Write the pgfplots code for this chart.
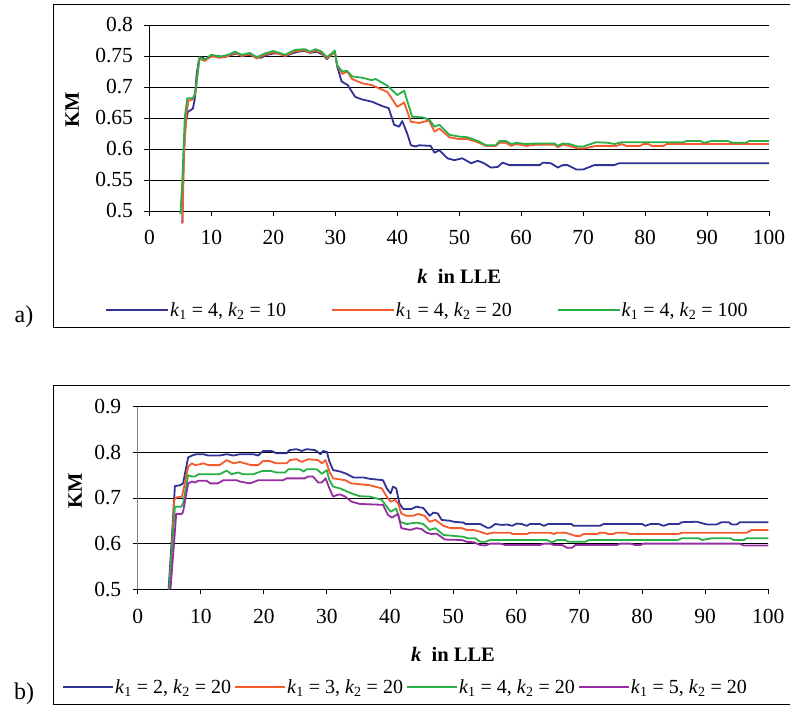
\documentclass[border=0pt]{standalone}
\usepackage{fontspec}
\setmainfont{Liberation Serif}
\usepackage{pgfplots}
\pgfplotsset{compat=1.18}

\definecolor{cBlue}{RGB}{48,50,150}
\definecolor{cRed}{RGB}{245,90,45}
\definecolor{cGreen}{RGB}{40,175,70}
\definecolor{cPurple}{RGB}{150,45,160}

\newcommand{\lbl}[2]{\textit{k}\textsubscript{1} = #1, \textit{k}\textsubscript{2} = #2}

\pgfplotsset{kmstyle/.style={
  scale only axis,
  xmin=0, xmax=100, xtick={0,10,...,100},
  axis lines*=left,
  tick align=outside,
  major tick length=5pt,
  ymajorgrids,
  grid style={black, line width=0.8pt},
  axis line style={black, line width=0.8pt},
  every tick/.style={black, line width=0.8pt},
  tick label style={font=\fontsize{21.5}{25}\selectfont},
  xticklabel style={yshift=-11pt},
  yticklabel style={xshift=-8pt},
  /pgf/number format/assume math mode=true,
  label style={font=\fontsize{20.5}{24}\selectfont\bfseries},
  xlabel={\textbf{\textit{k}}\ \ in LLE},
  ylabel={KM},
  clip=false,
  legend style={draw=none, fill=none, inner sep=0pt,
    font=\fontsize{20}{24}\selectfont, legend columns=-1,
    nodes={inner sep=1pt}},
  every axis plot/.append style={line width=1.8pt, line join=round},
}}

\begin{document}
\begin{tikzpicture}
\useasboundingbox (0pt,0pt) rectangle (790pt,709pt);

% ---------- a) ----------
\begin{axis}[kmstyle,
  at={(149.5pt,498pt)}, anchor=south west,
  width=619.5pt, height=186pt,
  ymin=0.5, ymax=0.8, ytick={0.5,0.55,...,0.8},
  yticklabels={0.5,0.55,0.6,0.65,0.7,0.75,0.8},
  xlabel style={at={(axis description cs:0.5,-0.35)}, anchor=center},
  ylabel style={at={(axis description cs:-0.125,0.543)}, anchor=center, rotate=0},
  legend style={at={(axis description cs:-0.0718,-0.532)}, anchor=west},
  legend image code/.code={\draw[#1, line width=2pt] (0pt,0pt) -- (56pt,0pt); \path (0pt,0pt) -- (62pt,0pt);},
  /tikz/every even column/.append style={column sep=44pt},
]
\addplot[cBlue] coordinates {
(5.3,0.48) (5.5,0.58) (5.8,0.64) (6.2,0.66) (7.0,0.665) (7.3,0.68) (7.6,0.72) (8.0,0.745) (8.5,0.748) (9,0.744)
(10,0.749) (11,0.75) (12,0.748) (13,0.751) (14,0.754) (15,0.75) (16,0.752) (17,0.749) (18,0.747) (19,0.752)
(20,0.754) (21,0.754) (22,0.75) (23,0.754) (24,0.757) (25,0.758) (26,0.755) (27,0.757) (28,0.752) (28.6,0.745)
(29.4,0.752) (29.9,0.757) (30.3,0.733) (31,0.709) (32,0.703) (33.2,0.684) (34.3,0.68) (36,0.676) (37.6,0.669)
(38.6,0.666) (39.5,0.639) (40.3,0.636) (40.8,0.645) (41.6,0.625) (42.2,0.606) (43,0.604) (43.5,0.606) (45.4,0.605)
(46,0.594) (46.8,0.598) (48.1,0.585) (49.2,0.582) (50.5,0.585) (51.9,0.577) (53,0.581) (54,0.577) (55.1,0.570)
(56.2,0.571) (57,0.578) (58.1,0.574) (63,0.574) (63.5,0.578) (64.8,0.577) (65.9,0.570) (66.7,0.574) (67.5,0.574)
(68.9,0.567) (70,0.567) (71.8,0.574) (75,0.574) (75.8,0.577) (100,0.577)
};
\addlegendentry{\lbl{4}{10}}
\addplot[cRed] coordinates {
(5.3,0.48) (5.6,0.6) (6.0,0.66) (6.3,0.678) (7.0,0.68) (7.4,0.69) (8.0,0.746) (8.9,0.742) (10,0.75) (11.4,0.747)
(12.7,0.75) (13.8,0.755) (14.9,0.75) (16.2,0.753) (17.3,0.746) (18.6,0.752) (20,0.756) (21.9,0.75) (23.5,0.758)
(25.1,0.759) (25.9,0.755) (26.8,0.759) (27.8,0.755) (28.6,0.746) (29.4,0.752) (29.9,0.757)
(30.3,0.735) (31.1,0.721) (31.9,0.725) (32.7,0.713) (34.3,0.706) (35.9,0.703) (37,0.698) (38.4,0.692) (40,0.668)
(41.1,0.675) (42.2,0.644) (43.5,0.642) (45.1,0.646) (46,0.628) (46.8,0.633) (48.4,0.619) (50,0.616) (51.3,0.616)
(52.7,0.612) (54.3,0.605) (55.9,0.605) (56.5,0.610) (57.5,0.610) (58.4,0.605) (59.2,0.608) (60.8,0.605) (62.4,0.607)
(65.4,0.607) (65.9,0.603) (66.7,0.607) (67.8,0.605) (69.1,0.601) (70.2,0.601) (72.1,0.605) (75.4,0.605) (76.2,0.608)
(77,0.605) (79.2,0.605) (79.7,0.608) (80.5,0.608) (81.1,0.605) (83,0.605) (83.5,0.608) (100,0.608)
};
\addlegendentry{\lbl{4}{20}}
\addplot[cGreen] coordinates {
(5.0,0.495) (5.3,0.55) (5.7,0.652) (6.1,0.682) (7.0,0.682) (7.4,0.69) (8.1,0.748) (8.9,0.744) (10,0.752) (11.4,0.749)
(12.7,0.752) (13.8,0.757) (14.9,0.752) (16.2,0.755) (17.3,0.748) (18.6,0.754) (20,0.758) (21.9,0.752) (23.5,0.760)
(25.1,0.761) (25.9,0.757) (26.8,0.761) (27.8,0.757) (28.6,0.748) (29.4,0.754) (29.9,0.759) (30.3,0.735) (31.1,0.725)
(31.9,0.726) (32.7,0.717) (34.3,0.715) (35.9,0.711) (36.5,0.713) (38.4,0.702) (40,0.687) (41.1,0.694) (42.4,0.652)
(44.1,0.651) (45.2,0.647) (46,0.636) (46.8,0.639) (48.4,0.623) (50,0.620) (51.3,0.619) (53,0.613) (54.3,0.606)
(55.9,0.606) (56.5,0.613) (57.5,0.613) (58.4,0.608) (59.2,0.610) (60.8,0.608) (62.4,0.609) (65.4,0.609) (65.9,0.605)
(66.7,0.609) (67.8,0.608) (69.1,0.604) (70,0.604) (72.1,0.611) (74,0.610) (75.1,0.608) (76.2,0.611) (86.2,0.611)
(86.7,0.613) (88.9,0.613) (89.5,0.610) (90.8,0.613) (93.3,0.613) (94.1,0.610) (96.3,0.610) (96.8,0.613) (100,0.613)
};
\addlegendentry{\lbl{4}{100}}
\end{axis}

% ---------- b) ----------
\begin{axis}[kmstyle,
  at={(137.7pt,119.7pt)}, anchor=south west,
  width=630.6pt, height=182.6pt,
  ymin=0.5, ymax=0.9, ytick={0.5,0.6,...,0.9},
  yticklabels={0.5,0.6,0.7,0.8,0.9},
  y axis line style={gray},
  xlabel style={at={(axis description cs:0.5,-0.355)}, anchor=center},
  ylabel style={at={(axis description cs:-0.099,0.538)}, anchor=center, rotate=0},
  legend style={at={(axis description cs:-0.12,-0.536)}, anchor=west},
  legend image code/.code={\draw[#1, line width=2pt] (0pt,0pt) -- (50pt,0pt);},
  /tikz/every even column/.append style={column sep=2pt},
]
\addplot[cBlue] coordinates {
(4.9,0.5) (5.4,0.608) (5.9,0.726) (6.7,0.728) (7.2,0.732) (8,0.789) (8.8,0.794) (9.4,0.796) (10.4,0.796) (11.2,0.793)
(13,0.793) (14.1,0.796) (15.2,0.793) (16.2,0.796) (18.3,0.796) (19.1,0.793) (19.9,0.803) (21.2,0.803) (22,0.798)
(23.6,0.798) (24.1,0.805) (25.2,0.807) (26,0.803) (26.8,0.807) (28.1,0.805) (29,0.796) (29.4,0.803) (30,0.801)
(30.4,0.78) (31,0.761) (32.1,0.758) (33.1,0.753) (34.2,0.745) (35.8,0.745) (36.8,0.742) (38.9,0.739) (39.5,0.721)
(40.1,0.710) (40.5,0.725) (41,0.721) (41.5,0.688) (42.1,0.676) (43.4,0.676) (44.2,0.681) (45.3,0.678) (46.3,0.661)
(46.9,0.668) (47.6,0.666) (48.2,0.652) (49.6,0.650) (50.1,0.648) (51.7,0.646) (52,0.643) (54.3,0.643) (55.4,0.635)
(55.9,0.635) (56.7,0.643) (57.8,0.641) (58.6,0.642) (59.4,0.639) (60.1,0.644) (60.9,0.643) (61.7,0.639) (62.2,0.643)
(63.8,0.643) (64.4,0.639) (65.1,0.643) (68.8,0.643) (69.1,0.639) (73.3,0.639) (73.9,0.643) (80,0.643) (80.5,0.639)
(81.3,0.643) (82.6,0.643) (83.4,0.639) (84.2,0.643) (85.8,0.643) (86.3,0.647) (88.7,0.648) (89.7,0.644) (90.3,0.642)
(91.8,0.642) (92.6,0.647) (93.7,0.647) (94.2,0.642) (95,0.642) (95.5,0.647) (100,0.647)
};
\addlegendentry{\lbl{2}{20}}
\addplot[cRed] coordinates {
(5.0,0.5) (5.4,0.586) (5.8,0.696) (6.1,0.701) (7,0.703) (7.2,0.714) (8,0.769) (8.6,0.776) (9.1,0.772) (9.9,0.774)
(10.4,0.776) (11.2,0.772) (13,0.772) (14.1,0.783) (15.2,0.776) (16.2,0.779) (18,0.772) (19.1,0.772) (19.9,0.781)
(20.9,0.781) (22,0.776) (23.6,0.776) (24.1,0.783) (25.2,0.785) (26,0.779) (27,0.785) (28.6,0.783) (29.2,0.776)
(29.8,0.783) (30.4,0.758) (31,0.743) (32.9,0.739) (33.9,0.732) (36.8,0.728) (38.7,0.721) (39.5,0.703) (40.1,0.692)
(40.8,0.696) (41.3,0.688) (41.8,0.666) (42.6,0.661) (43.7,0.661) (44.5,0.665) (45.5,0.661) (46.3,0.648) (47.2,0.652)
(48.5,0.639) (49.6,0.634) (51.4,0.634) (52.2,0.630) (53.3,0.630) (54.3,0.626) (55.4,0.621) (56.2,0.624) (59.1,0.624)
(59.4,0.621) (61.7,0.621) (62.2,0.624) (65.4,0.624) (66,0.621) (66.5,0.624) (67.8,0.624) (68.6,0.621) (69.4,0.617)
(70.2,0.617) (70.7,0.621) (72.8,0.621) (73.3,0.624) (74.1,0.624) (74.6,0.621) (75.4,0.621) (75.9,0.624) (77.5,0.624)
(78,0.621) (85.7,0.621) (86.3,0.624) (96.6,0.624) (97.4,0.630) (100,0.630)
};
\addlegendentry{\lbl{3}{20}}
\addplot[cGreen] coordinates {
(5.0,0.5) (5.4,0.58) (5.9,0.681) (6.9,0.681) (7.2,0.688) (8,0.750) (8.6,0.747) (9.1,0.747) (9.6,0.752) (13,0.752)
(14.1,0.760) (14.9,0.752) (15.9,0.756) (16.7,0.752) (18.3,0.752) (19.7,0.759) (21.2,0.759) (22,0.756) (23.4,0.756)
(23.9,0.763) (25.7,0.763) (26.3,0.758) (26.8,0.763) (28.4,0.763) (29.2,0.753) (30,0.761) (30.4,0.739) (31,0.725)
(32.1,0.721) (33.9,0.710) (35.2,0.704) (36.8,0.703) (38.7,0.696) (39.5,0.681) (40.1,0.670) (41,0.677) (41.6,0.648)
(42.6,0.643) (44.2,0.646) (45.3,0.643) (46.3,0.630) (47.2,0.634) (48.5,0.619) (50.1,0.617) (51.7,0.615) (52.2,0.612)
(53.5,0.612) (54.3,0.604) (55.1,0.604) (55.9,0.608) (64.9,0.608) (65.7,0.603) (66.5,0.608) (67.8,0.608) (68.3,0.604)
(71,0.604) (71.5,0.608) (85.7,0.608) (86.3,0.612) (88.9,0.612) (89.5,0.608) (91.1,0.612) (94,0.612) (94.5,0.608)
(96.1,0.608) (96.6,0.612) (100,0.612)
};
\addlegendentry{\lbl{4}{20}}
\addplot[cPurple] coordinates {
(5.2,0.5) (5.8,0.608) (6.1,0.665) (7,0.665) (7.2,0.670) (8,0.732) (8.6,0.736) (9.1,0.734) (9.6,0.738) (10.9,0.738)
(11.5,0.732) (12.7,0.732) (13.6,0.739) (15.7,0.739) (16.2,0.736) (17.8,0.732) (18.6,0.736) (19.1,0.739) (23.1,0.739)
(23.6,0.743) (26.5,0.743) (27,0.747) (27.8,0.747) (28.6,0.734) (29.2,0.734) (29.8,0.743) (30.4,0.721) (31,0.703)
(31.5,0.706) (32.1,0.708) (32.9,0.703) (33.9,0.692) (35.2,0.687) (38.9,0.685) (39.7,0.663) (40.3,0.657) (41.3,0.665)
(41.8,0.634) (43.2,0.630) (44.2,0.634) (45,0.632) (45.8,0.624) (46.6,0.621) (47.4,0.622) (48.7,0.609) (51.4,0.608)
(52.2,0.604) (53.3,0.603) (54.3,0.597) (55.1,0.596) (55.9,0.600) (57.5,0.600) (58.3,0.597) (63.8,0.597) (64.4,0.600)
(65.4,0.600) (66,0.597) (67.3,0.597) (68.1,0.591) (68.9,0.591) (69.4,0.597) (76,0.597) (76.5,0.600) (78.1,0.600)
(78.9,0.597) (79.7,0.597) (80.2,0.600) (95.5,0.600) (96.1,0.596) (100,0.596)
};
\addlegendentry{\lbl{5}{20}}
\end{axis}

% panel frames and panel letters
\draw[line width=1pt] (790pt,704pt) -- (53pt,704pt) -- (53pt,381pt) -- (790pt,381pt);
\draw[line width=1pt] (790pt,323pt) -- (53pt,323pt) -- (53pt,4pt) -- (790pt,4pt);
\node[font=\fontsize{24}{28}\selectfont] at (24pt,392pt) {a)};
\node[font=\fontsize{24}{28}\selectfont] at (24pt,15pt) {b)};
\end{tikzpicture}
\end{document}
